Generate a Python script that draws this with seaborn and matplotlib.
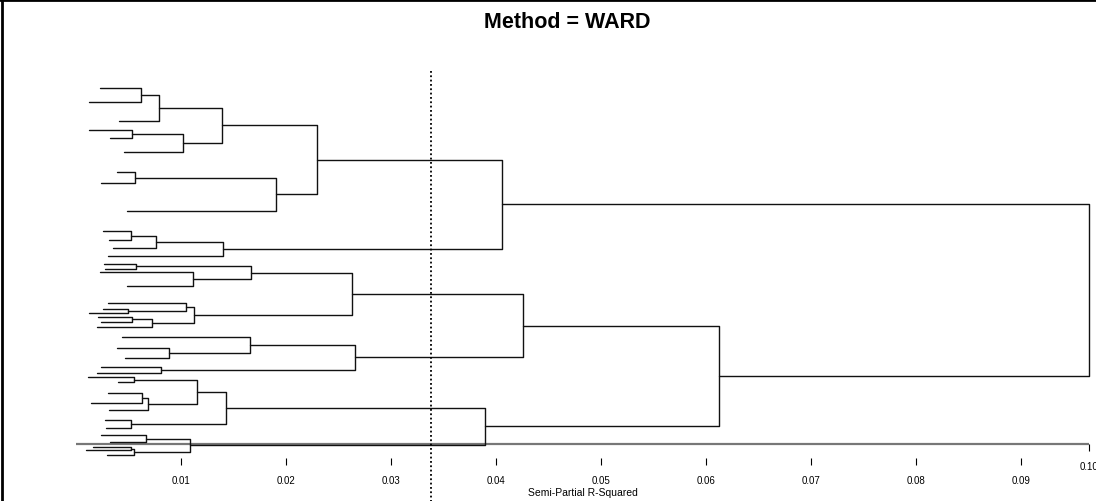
import numpy as np
import pandas as pd
import matplotlib
matplotlib.use("Agg")
import matplotlib.pyplot as plt
import seaborn as sns
from matplotlib.lines import Line2D

# ---------------- data ----------------
# leaf ordinates (top to bottom) and the semi-partial R^2 where each leaf starts
leaf_pos = [89, 103, 121.7, 131, 138.7, 153, 173, 184, 212, 232.3, 241, 249.3, 257,
            264.7, 270, 273, 287, 304, 310, 314, 317.7, 322.7, 327.7, 337.7, 349.3,
            358.7, 367.7, 374, 378.3, 383.3, 393.7, 404.3, 411, 420.7, 429, 436.3,
            442.7, 448.3, 450.7, 455.7]
leaf_start = [0.00229, 0.00124, 0.00410, 0.00124, 0.00324, 0.00457, 0.00388, 0.00238,
              0.00486, 0.00254, 0.00314, 0.00352, 0.00305, 0.00264, 0.00279, 0.00229,
              0.00489, 0.00308, 0.00260, 0.00127, 0.00212, 0.00238, 0.00197, 0.00441,
              0.00393, 0.00467, 0.00238, 0.00197, 0.00111, 0.00403, 0.00302, 0.00143,
              0.00317, 0.00279, 0.00286, 0.00235, 0.00324, 0.00165, 0.00095, 0.00292]

# merges (scipy-like: leaves 0..39, new clusters numbered from 40)
merge_left = [0, 40, 3, 42, 41, 6, 45, 44, 9, 48, 49, 47, 13, 15, 52, 18, 17, 20, 57,
              56, 54, 24, 23, 26, 62, 60, 28, 30, 67, 66, 33, 69, 35, 37, 73, 72, 71,
              65, 51]
merge_right = [1, 2, 4, 5, 43, 7, 8, 46, 10, 11, 12, 50, 14, 16, 53, 19, 55, 21, 22,
               58, 59, 25, 61, 27, 63, 64, 29, 31, 32, 68, 34, 70, 36, 38, 39, 74, 75,
               76, 77]
merge_height = [0.00619, 0.00790, 0.00533, 0.01019, 0.01393, 0.00562, 0.01902, 0.02292,
                0.00521, 0.00759, 0.01403, 0.04060, 0.00571, 0.01114, 0.01664, 0.00498,
                0.01050, 0.00530, 0.00727, 0.01121, 0.02631, 0.00883, 0.01654, 0.00812,
                0.02654, 0.04260, 0.00552, 0.00631, 0.00686, 0.01150, 0.00527, 0.01425,
                0.00670, 0.00524, 0.00552, 0.01086, 0.03898, 0.06127, 0.09648]

tick_values = [0.01, 0.02, 0.03, 0.04, 0.05, 0.06, 0.07, 0.08, 0.09]
tick_labels = ["0.01", "0.02", "0.03", "0.04", "0.05", "0.06", "0.07", "0.08", "0.09"]
max_label = "0.10"
cut_height = 0.03384
title = "Method = WARD"
x_title = "Semi-Partial R-Squared"

# ---------------- build the tree segments ----------------
pos = list(leaf_pos)
hgt = list(leaf_start)
rows = []
for k, (a, b, h) in enumerate(zip(merge_left, merge_right, merge_height)):
    rows += [(k, hgt[a], pos[a]), (k, h, pos[a]), (k, h, pos[b]), (k, hgt[b], pos[b])]
    pos.append((pos[a] + pos[b]) / 2.0)
    hgt.append(h)
df = pd.DataFrame(rows, columns=["seg", "x", "y"])
root = merge_height[-1]

# ---------------- drawing ----------------
sns.set_theme(style="white")
plt.rcParams["font.family"] = ["Liberation Sans", "DejaVu Sans"]
plt.rcParams["text.color"] = "black"
plt.rcParams["xtick.color"] = "black"
plt.rcParams["xtick.labelcolor"] = "black"

fig = plt.figure(figsize=(10.96, 5.02), dpi=100)
ax = fig.add_axes([0, 0, 1, 1])
ax.set_xlim(-76 / 10500, 1020 / 10500)
ax.set_ylim(502, 0)

sns.lineplot(data=df, x="x", y="y", units="seg", estimator=None, sort=False,
             color="#111111", linewidth=1.0, ax=ax)

# axis line through the bottom of the tree
ax.hlines(445, 0, root, color="#777777", linewidth=1.6, zorder=1)

# detached tick marks / labels
for s in ax.spines.values():
    s.set_visible(False)
ax.spines["bottom"].set_position(("data", 459))
ax.set_xticks(tick_values)
ax.set_xticklabels(tick_labels)
ax.tick_params(axis="x", bottom=True, length=5, width=0.8, colors="black",
               labelcolor="black", direction="out", pad=7.5, labelsize=7)
ax.set_yticks([])
ax.set_xlabel("")
ax.set_ylabel("")

# end tick labelled with rounded maximum
ax.vlines(root, 445, 452, color="black", linewidth=0.8)
ax.text(root, 467, max_label, ha="center", va="center", fontsize=7, color="black")

ax.text(root / 2, 493, x_title, ha="center", va="center", fontsize=7.5, color="black")

# cut-off reference line
ax.vlines(cut_height, 72, 502, colors="black", linestyles=(0, (1, 1.4)), linewidth=1.3)

fig.text(567 / 1096, 1 - 22 / 502, title, ha="center", va="center",
         fontsize=15.5, fontweight="bold", color="black")

# outer frame (left and top edges)
fig.add_artist(Line2D([0.0015, 0.0015], [0, 1], transform=fig.transFigure,
                      color="black", linewidth=2))
fig.add_artist(Line2D([0, 1], [0.998, 0.998], transform=fig.transFigure,
                      color="black", linewidth=2))

fig.savefig("out.png", dpi=100)
